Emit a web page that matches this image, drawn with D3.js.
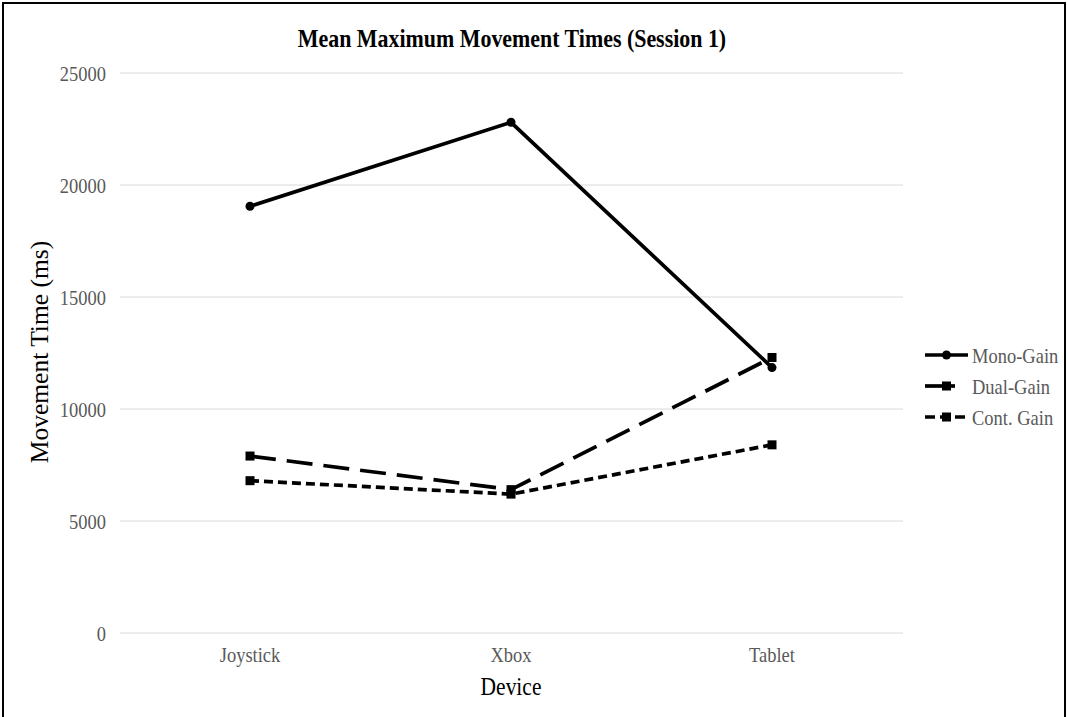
<!DOCTYPE html>
<html><head><meta charset="utf-8">
<script src="https://cdn.jsdelivr.net/npm/d3@7"></script>
<style>body{margin:0;background:#fff}svg{display:block}</style>
</head><body>
<svg id="c" width="1068" height="717"></svg>
<script>
const categories = ["Joystick", "Xbox", "Tablet"];
const seriesNames = ["Mono-Gain", "Dual-Gain", "Cont. Gain"];
const monoGain = [19050, 22800, 11850];
const dualGain = [7900, 6400, 12300];
const contGain = [6800, 6200, 8400];
const yTicks = [0, 5000, 10000, 15000, 20000, 25000];

const series = [
  {name: seriesNames[0], values: monoGain, dash: null, legDash: null, marker: "circle"},
  {name: seriesNames[1], values: dualGain, dash: "26,11", legDash: "30,30", marker: "square"},
  {name: seriesNames[2], values: contGain, dash: "9,5", legDash: "10,5", marker: "square"}
];

const svg = d3.select("#c");
const font = "'Liberation Serif','Times New Roman',serif";
const SX = 0.86;

// frame
svg.append("path").attr("d", "M3,720 L3,3 L1065,3 L1065,720")
  .attr("fill", "none").attr("stroke", "#000").attr("stroke-width", 2);

const x = d3.scalePoint().domain(categories).range([250, 772]);
const y = d3.scaleLinear().domain([0, 25000]).range([633, 73]);
const plotL = 120, plotR = 903;

// gridlines
svg.append("g").selectAll("line").data(yTicks).join("line")
  .attr("x1", plotL).attr("x2", plotR)
  .attr("y1", d => y(d)).attr("y2", d => y(d))
  .attr("stroke", "#d9d9d9").attr("stroke-width", 1);

// helper: horizontally condensed text
function ctext(px, py, str, size, opts = {}) {
  const t = svg.append("text")
    .attr("transform", `translate(${px},${py}) scale(${SX},1)`)
    .attr("text-anchor", opts.anchor || "start")
    .attr("font-family", font).attr("font-size", size)
    .attr("fill", opts.fill || "#000")
    .text(str);
  if (opts.bold) t.attr("font-weight", "bold");
  if (opts.dy) t.attr("dy", opts.dy);
  return t;
}

// y axis labels
const yFmt = d3.format("d");
yTicks.forEach(v => ctext(106, y(v), yFmt(v), 21.5, {anchor: "end", fill: "#595959", dy: "0.35em"}));

// x axis labels
categories.forEach(c => ctext(x(c), 662, c, 21.5, {anchor: "middle", fill: "#595959"}));

// title
ctext(512, 47, "Mean Maximum Movement Times (Session 1)", 25.5, {anchor: "middle", bold: true});
// axis titles
ctext(511, 695, "Device", 25, {anchor: "middle"});
svg.append("text").attr("transform", `translate(48,352) rotate(-90)`).attr("text-anchor", "middle")
  .attr("font-family", font).attr("font-size", 25.5).text("Movement Time (ms)");

const line = d3.line().x((d, i) => x(categories[i])).y(d => y(d));

function drawMarker(g, type, cx, cy) {
  if (type === "circle") g.append("circle").attr("cx", cx).attr("cy", cy).attr("r", 4.5).attr("fill", "#000");
  else g.append("rect").attr("x", cx - 4.5).attr("y", cy - 4.5).attr("width", 9).attr("height", 9).attr("fill", "#000");
}

series.slice().reverse().forEach(s => {
  const g = svg.append("g");
  g.append("path").attr("d", line(s.values)).attr("fill", "none")
    .attr("stroke", "#000").attr("stroke-width", 3.7)
    .attr("stroke-dasharray", s.dash);
  s.values.forEach((v, i) => drawMarker(g, s.marker, x(categories[i]), y(v)));
});

// legend
const legY = [355, 386, 417];
series.forEach((s, i) => {
  const g = svg.append("g");
  g.append("line").attr("x1", 925).attr("x2", 968).attr("y1", legY[i]).attr("y2", legY[i])
    .attr("stroke", "#000").attr("stroke-width", 3.7).attr("stroke-dasharray", s.legDash);
  drawMarker(g, s.marker, 946.5, legY[i]);
  ctext(972, legY[i], s.name, 21.5, {fill: "#595959", dy: "0.35em"});
});
</script>
</body></html>
